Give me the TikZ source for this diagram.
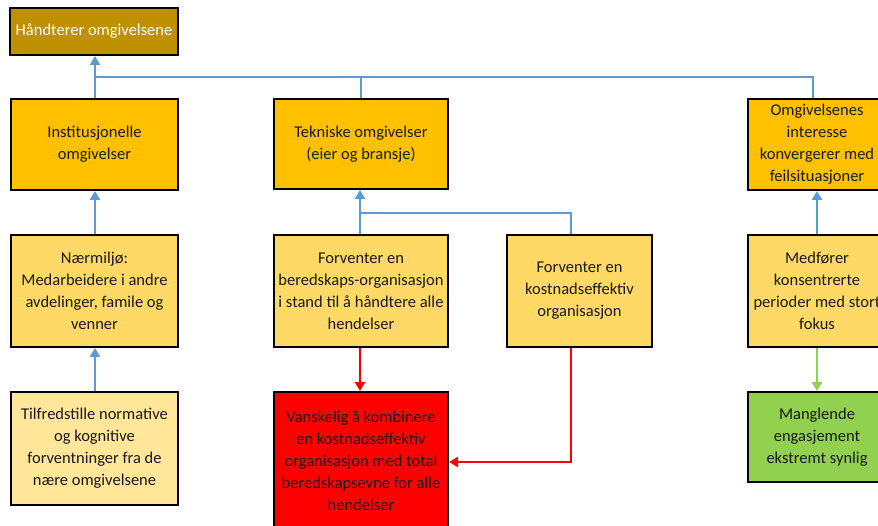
\documentclass[tikz,border=0pt]{standalone}
\usepackage{fontspec}
\setmainfont{Carlito}
\usetikzlibrary{arrows.meta}
\definecolor{darkgold}{HTML}{BF9000}
\definecolor{gold}{HTML}{FFC000}
\definecolor{lightgold}{HTML}{FFD966}
\definecolor{palegold}{HTML}{FFE699}
\definecolor{alarm}{HTML}{FF0000}
\definecolor{leaf}{HTML}{92D050}
\definecolor{link}{HTML}{5B9BD5}
\begin{document}
\begin{tikzpicture}[x=1pt,y=-1pt,
  box/.style={draw=black, line width=2pt, rectangle, align=center, inner sep=1pt,
    font=\fontsize{16.5}{22}\selectfont, text=black!90},
  up/.style={draw=link, line width=2.6pt, -{Triangle[width=10pt,length=9pt]}},
  bus/.style={draw=link, line width=2.2pt},
  redarrow/.style={draw=alarm, line width=2.2pt, -{Triangle[width=10pt,length=9pt]}},
  greenarrow/.style={draw=leaf, line width=2.6pt, -{Triangle[width=10pt,length=9pt]}}]
\useasboundingbox (0,0) rectangle (878,526);
\clip (0,0) rectangle (878,526);
\fill[white] (0,0) rectangle (878,526);

% boxes
\node[box, fill=darkgold, text=white, minimum width=168, minimum height=47] (top) at (94,31.5) {Håndterer omgivelsene};
\node[box, fill=gold, minimum width=167, minimum height=91] (inst) at (94.5,144.5) {Institusjonelle\\omgivelser};
\node[box, fill=gold, minimum width=174, minimum height=90] (tek) at (361,144) {Tekniske omgivelser\\(eier og bransje)};
\node[box, fill=gold, minimum width=138, minimum height=91] (omg) at (817,144.5) {Omgivelsenes\\interesse\\konvergerer med\\feilsituasjoner};
\node[box, fill=lightgold, minimum width=167, minimum height=112] (naer) at (94.5,291) {Nærmiljø:\\Medarbeidere i andre\\avdelinger, famile og\\venner};
\node[box, fill=lightgold, minimum width=174, minimum height=112] (bered) at (361,291) {Forventer en\\beredskaps-organisasjon\\i stand til å håndtere alle\\hendelser};
\node[box, fill=lightgold, minimum width=145, minimum height=112] (kost) at (579.5,291) {Forventer en\\kostnadseffektiv\\organisasjon};
\node[box, fill=lightgold, minimum width=138, minimum height=112] (medf) at (817,291) {Medfører\\konsentrerte\\perioder med stort\\fokus};
\node[box, fill=palegold, minimum width=167, minimum height=113] (tilf) at (94.5,448.5) {Tilfredstille normative\\og kognitive\\forventninger fra de\\nære omgivelsene};
\node[box, fill=alarm, minimum width=174, minimum height=138] (vansk) at (361,461) {Vanskelig å kombinere\\en kostnadseffektiv\\organisasjon med total\\beredskapsevne for alle\\hendelser};
\node[box, fill=leaf, minimum width=138, minimum height=90] (mangl) at (817,437) {Manglende\\engasjement\\ekstremt synlig};

% connector bends
\coordinate (busL) at (95,77);
\coordinate (midbus) at (360,213);
\coordinate (kostTop) at ([xshift=-8.5pt]kost.north);
\coordinate (kostBot) at ([xshift=-8.5pt]kost.south);
\coordinate (redturn) at (571,462);

% blue links upward
\draw[up] ([xshift=0.5pt]inst.north) -- ([xshift=1pt]top.south);
\draw[bus] (tek.north) |- (busL);
\draw[bus] ([xshift=-4pt]omg.north) |- (busL);
\draw[up] ([xshift=0.5pt]naer.north) -- ([xshift=0.5pt]inst.south);
\draw[up] ([xshift=0.5pt]tilf.north) -- ([xshift=0.5pt]naer.south);
\draw[up] ([xshift=-1pt]bered.north) -- ([xshift=-1pt]tek.south);
\draw[bus] (kostTop) |- (midbus);
\draw[up] (medf.north) -- (omg.south);

% red and green links downward
\draw[redarrow] ([xshift=-1pt]bered.south) -- ([xshift=-1pt]vansk.north);
\draw[redarrow] (kostBot) -- (redturn) -- (vansk.east |- redturn);
\draw[greenarrow] (medf.south) -- (mangl.north);
\end{tikzpicture}
\end{document}
